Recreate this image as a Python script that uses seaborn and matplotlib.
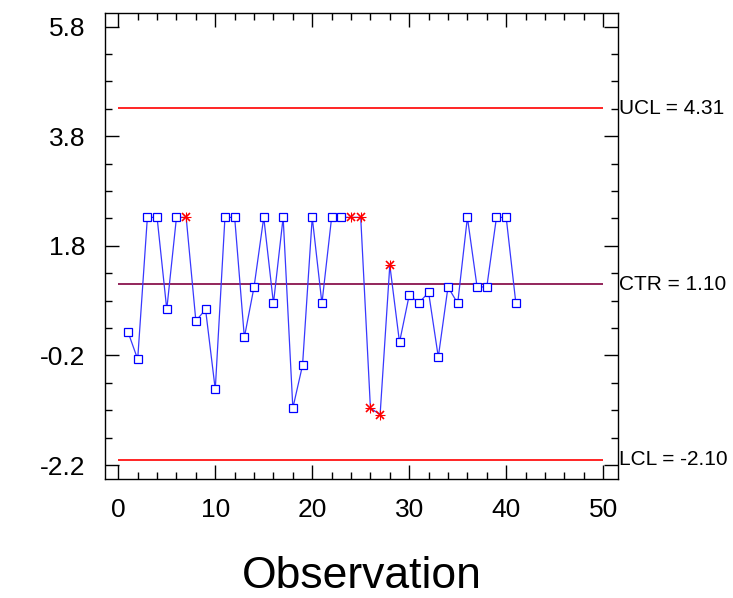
import numpy as np
import pandas as pd
import seaborn as sns
import matplotlib
matplotlib.use("Agg")
import matplotlib.pyplot as plt
import matplotlib.transforms as mtransforms
from matplotlib.ticker import MultipleLocator, FixedLocator

# observation values
observation = list(range(1, 42))
values = [0.23, -0.27, 2.32, 2.32, 0.64, 2.32, 2.32, 0.43, 0.64, -0.82,
          2.32, 2.32, 0.13, 1.05, 2.32, 0.75, 2.32, -1.16, -0.38, 2.32,
          0.75, 2.32, 2.32, 2.32, 2.32, -1.16, -1.28, 1.45, 0.04, 0.90,
          0.76, 0.95, -0.23, 1.05, 0.75, 2.32, 1.05, 1.05, 2.32, 2.32,
          0.75]
flagged = [7, 24, 25, 26, 27, 28]   # points drawn with red stars

ucl = 4.31
ctr = 1.10
lcl = -2.10
limit_names = ["UCL", "CTR", "LCL"]
limit_values = [ucl, ctr, lcl]
limit_colors = ["#ff0000", "#800040", "#ff0000"]

df = pd.DataFrame({"obs": observation, "value": values})
df["flag"] = df["obs"].isin(flagged)

sns.set_theme(style="white")
plt.rcParams["font.family"] = ["Liberation Sans", "DejaVu Sans"]
plt.rcParams["text.color"] = "black"
plt.rcParams["axes.labelcolor"] = "black"

fig = plt.figure(figsize=(7.33, 5.98), dpi=100)
ax = fig.add_axes([105 / 733, 1 - 479 / 598, (617.7 - 105) / 733, (479 - 13) / 598])

# control limits
trans = mtransforms.blended_transform_factory(ax.transAxes, ax.transData)
for name, val, col in zip(limit_names, limit_values, limit_colors):
    ax.hlines(val, 0, 50, color=col, lw=1.2, zorder=1)
    ax.text(1.003, val, f"{name} = {val:.2f}", transform=trans, ha="left",
            va="center", fontsize=15, clip_on=False)

sns.lineplot(data=df, x="obs", y="value", ax=ax, color="#3838ff", lw=0.9,
             zorder=2)
ok = df[~df["flag"]]
bad = df[df["flag"]]
ax.plot(ok["obs"], ok["value"], ls="none", marker="s", ms=5.5,
        mfc="white", mec="#0000ff", mew=0.9, zorder=3)
ax.plot(bad["obs"], bad["value"], ls="none", marker="x", ms=6,
        color="#ff0000", mew=1.2, zorder=3)
ax.plot(bad["obs"], bad["value"], ls="none", marker="+", ms=7,
        color="#ff0000", mew=0.8, zorder=3)

ax.set_xlim(-1.37, 51.5)
ax.set_ylim(-2.455, 6.05)
ax.set_xticks([0, 10, 20, 30, 40, 50])
ax.set_yticks([5.8, 3.8, 1.8, -0.2, -2.2])
ax.set_yticklabels(["5.8", "3.8", "1.8", "-0.2", "-2.2"])
ax.xaxis.set_minor_locator(MultipleLocator(2))
ax.yaxis.set_minor_locator(FixedLocator(np.arange(-2.2, 6.0, 0.5)))
ax.tick_params(which="both", direction="in", top=True, right=True,
               bottom=True, left=True, colors="black")
ax.tick_params(which="major", length=10, width=1, labelsize=19)
ax.tick_params(which="minor", length=5, width=1)
ax.tick_params(axis="x", which="major", pad=14)
ax.tick_params(axis="y", which="major", pad=14)
for s in ax.spines.values():
    s.set_color("black")
    s.set_linewidth(1)

ax.set_xlabel("Observation", fontsize=32, labelpad=24)
ax.set_ylabel("")

fig.savefig("out.png", dpi=100)
